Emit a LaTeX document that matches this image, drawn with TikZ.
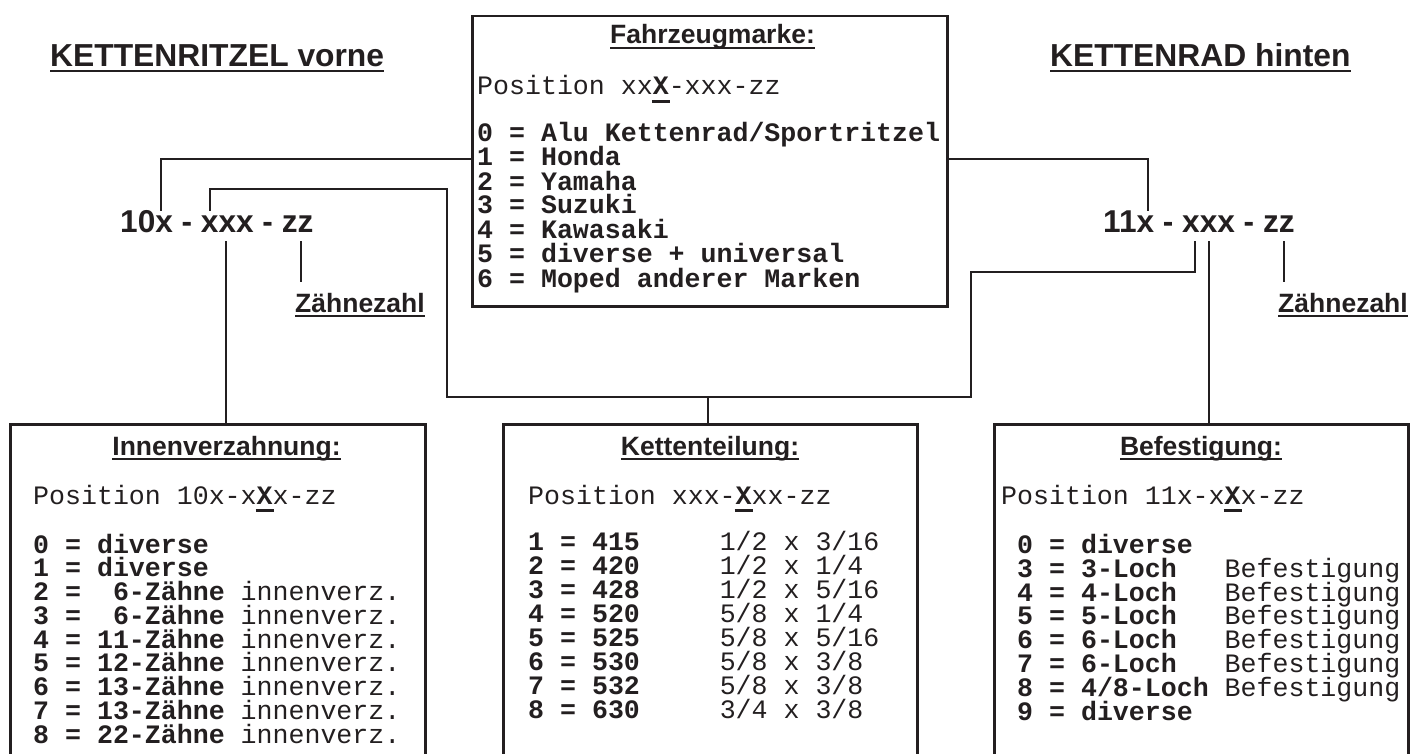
\documentclass[tikz,border=0pt]{standalone}
\usepackage{fontspec}
\newfontfamily\arialf{Liberation Sans}
\newfontfamily\courf{Liberation Mono}
\definecolor{ink}{RGB}{35,31,32}
\newcommand\ulsans[1]{\setbox0\hbox{#1}\rlap{\rule[-5pt]{\wd0}{2.4pt}}\box0}
\newcommand\ulX{\setbox0\hbox{\bfseries X}\rlap{\hspace{-1pt}\rule[-8pt]{\dimexpr\wd0+2pt\relax}{3pt}}\box0}
\tikzset{
  bigtitle/.style={font=\arialf\bfseries\fontsize{31.8pt}{36pt}\selectfont, text=ink, anchor=base west, inner sep=0pt},
  codest/.style={font=\arialf\bfseries\fontsize{31.6pt}{36pt}\selectfont, text=ink, anchor=base west, inner sep=0pt},
  subtitle/.style={font=\arialf\bfseries\fontsize{26.5pt}{30pt}\selectfont, text=ink, anchor=base, inner sep=0pt},
  mono/.style={font=\courf\fontsize{26.6pt}{24pt}\selectfont, text=ink, anchor=base west, inner sep=0pt},
  panel/.style={draw=ink, line width=2.5pt, anchor=north west, inner sep=0pt},
  conn/.style={draw=ink, line width=1.3pt},
}
\begin{document}
\begin{tikzpicture}[x=1pt,y=-1pt]
\useasboundingbox (0,0) rectangle (1410,754);
\begin{scope}
\clip (0,0) rectangle (1410,754);
% panels
\node[panel, minimum width=475pt, minimum height=290pt] (fbox) at (471,15) {};
\node[panel, minimum width=415pt, minimum height=360pt] (ibox) at (9,423) {};
\node[panel, minimum width=414pt, minimum height=360pt] (kbox) at (502,423) {};
\node[panel, minimum width=414pt, minimum height=360pt] (bbox) at (993,423) {};
\end{scope}

% headings
\node[bigtitle] (tl) at (50,67) {\ulsans{KETTENRITZEL vorne}};
\node[bigtitle] (tr) at (1050,67) {\ulsans{KETTENRAD hinten}};

% codes
\node[codest] (c10) at (120,233) {10x - xxx - zz};
\node[codest] (c11) at (1103,233) {11x - xxx - zz};
\node[subtitle, anchor=base west] (z10) at (295,312) {\ulsans{Zähnezahl}};
\node[subtitle, anchor=base west] (z11) at (1278,312) {\ulsans{Zähnezahl}};

% top panel
\node[subtitle] (ft) at (712.5,44) {\ulsans{Fahrzeugmarke:}};
\node[mono] (fp) at (477,95) {Position xx\ulX-xxx-zz};
\node[mono] (f0) at (477,142) {\bfseries 0 = Alu Kettenrad/Sportritzel};
\node[mono] (f1) at (477,166) {\bfseries 1 = Honda};
\node[mono] (f2) at (477,190) {\bfseries 2 = Yamaha};
\node[mono] (f3) at (477,214) {\bfseries 3 = Suzuki};
\node[mono] (f4) at (477,238) {\bfseries 4 = Kawasaki};
\node[mono] (f5) at (477,262) {\bfseries 5 = diverse + universal};
\node[mono] (f6) at (477,287) {\bfseries 6 = Moped anderer Marken};

% Innenverzahnung
\node[subtitle] (it) at (226.5,455) {\ulsans{Innenverzahnung:}};
\node[mono] (ip) at (33,504) {Position 10x-x\ulX x-zz};
\node[mono] (i0) at (33,553) {\bfseries 0 = diverse};
\node[mono] (i1) at (33,576.75) {\bfseries 1 = diverse};
\node[mono] (i2) at (33,600.5) {{\bfseries 2 = \ 6-Zähne} innenverz.};
\node[mono] (i3) at (33,624.25) {{\bfseries 3 = \ 6-Zähne} innenverz.};
\node[mono] (i4) at (33,648) {{\bfseries 4 = 11-Zähne} innenverz.};
\node[mono] (i5) at (33,671.75) {{\bfseries 5 = 12-Zähne} innenverz.};
\node[mono] (i6) at (33,695.5) {{\bfseries 6 = 13-Zähne} innenverz.};
\node[mono] (i7) at (33,719.25) {{\bfseries 7 = 13-Zähne} innenverz.};
\node[mono] (i8) at (33,743) {{\bfseries 8 = 22-Zähne} innenverz.};

% Kettenteilung
\node[subtitle] (kt) at (710,455) {\ulsans{Kettenteilung:}};
\node[mono] (kp) at (528,504) {Position xxx-\ulX xx-zz};
\node[mono] (k1) at (528,550) {{\bfseries 1 = 415}\ \ \ \ \ 1/2 x 3/16};
\node[mono] (k2) at (528,574) {{\bfseries 2 = 420}\ \ \ \ \ 1/2 x 1/4};
\node[mono] (k3) at (528,598) {{\bfseries 3 = 428}\ \ \ \ \ 1/2 x 5/16};
\node[mono] (k4) at (528,622) {{\bfseries 4 = 520}\ \ \ \ \ 5/8 x 1/4};
\node[mono] (k5) at (528,646) {{\bfseries 5 = 525}\ \ \ \ \ 5/8 x 5/16};
\node[mono] (k6) at (528,670) {{\bfseries 6 = 530}\ \ \ \ \ 5/8 x 3/8};
\node[mono] (k7) at (528,694) {{\bfseries 7 = 532}\ \ \ \ \ 5/8 x 3/8};
\node[mono] (k8) at (528,718) {{\bfseries 8 = 630}\ \ \ \ \ 3/4 x 3/8};

% Befestigung
\node[subtitle] (bt) at (1201,455) {\ulsans{Befestigung:}};
\node[mono] (bp) at (1001,504) {Position 11x-x\ulX x-zz};
\node[mono] (b0) at (1017,553) {\bfseries 0 = diverse};
\node[mono] (b3) at (1017,577) {{\bfseries 3 = 3-Loch}\ \ \ Befestigung};
\node[mono] (b4) at (1017,601) {{\bfseries 4 = 4-Loch}\ \ \ Befestigung};
\node[mono] (b5) at (1017,624.5) {{\bfseries 5 = 5-Loch}\ \ \ Befestigung};
\node[mono] (b6) at (1017,648.5) {{\bfseries 6 = 6-Loch}\ \ \ Befestigung};
\node[mono] (b7) at (1017,672) {{\bfseries 7 = 6-Loch}\ \ \ Befestigung};
\node[mono] (b8) at (1017,696) {{\bfseries 8 = 4/8-Loch} Befestigung};
\node[mono] (b9) at (1017,720) {\bfseries 9 = diverse};

% connector points
\coordinate (pA) at (161,159);
\coordinate (pE) at (1148,159);
\coordinate (pB1) at (210,189);
\coordinate (pB2) at (447,397);
\coordinate (pB3) at (971,272);
\coordinate (pB4) at (1195,241);
\coordinate (pK) at (708,397);
\coordinate (pC) at (226,241);
\coordinate (pD) at (301,241);
\coordinate (pD2) at (301,282);
\coordinate (pF) at (1209,241);
\coordinate (pG) at (1284,241);
\coordinate (pG2) at (1284,282);

% connectors
\draw[conn] (fbox.west |- pA) -| (c10.north -| pA);
\draw[conn] (fbox.east |- pE) -| (c11.north -| pE);
\draw[conn] (c10.north -| pB1) |- (pB2 |- pB1) |- (pB3 |- pB2) |- (pB4 |- pB3) -- (pB4);
\draw[conn] (pK) -- (kbox.north -| pK);
\draw[conn] (pC) -- (ibox.north -| pC);
\draw[conn] (pD) -- (pD2);
\draw[conn] (pF) -- (bbox.north -| pF);
\draw[conn] (pG) -- (pG2);
\end{tikzpicture}
\end{document}
